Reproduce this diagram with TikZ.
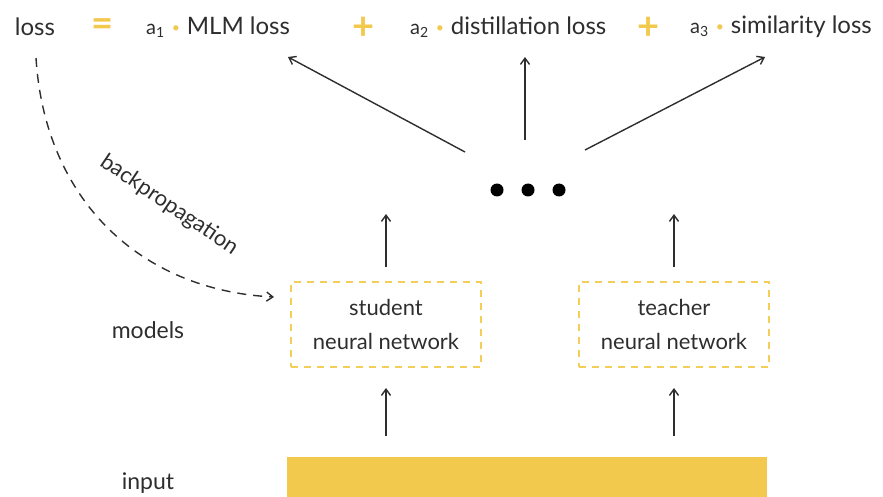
\documentclass[tikz,border=0pt]{standalone}
\usepackage{fontspec}
\setmainfont{Lato}
\usepackage{xcolor}
\usepackage{tikz}
\usetikzlibrary{arrows.meta,positioning}
\definecolor{ink}{HTML}{2E2E2E}
\definecolor{gold}{HTML}{F2C94C}
\definecolor{golddash}{HTML}{F3CF5A}
\tikzset{
  txt/.style={text=ink,font=\fontsize{23}{28}\selectfont,inner sep=2pt},
  term/.style={text=ink,font=\fontsize{24}{29}\selectfont,inner sep=2pt,anchor=west},
  sym/.style={text=gold,font=\fontsize{38}{40}\selectfont\bfseries,inner sep=0pt},
  ar/.style={-{Straight Barb[length=2.2mm,width=3.2mm]},line width=1.4pt,ink},
  bp/.style={-{Straight Barb[length=2.2mm,width=3.2mm]},line width=1.4pt,ink,dash pattern=on 9pt off 7pt},
  netbox/.style={draw=golddash,line width=2pt,dash pattern=on 7pt off 6pt,minimum width=190pt,minimum height=85pt,
    align=center,text=ink,font=\fontsize{22}{34}\selectfont},
  bar/.style={fill=gold,minimum width=480pt,minimum height=40pt,inner sep=0pt}
}
\newcommand{\wgt}[1]{{\fontsize{20}{24}\selectfont a\textsubscript{#1}}\hspace{7pt}{\fontsize{14}{14}\selectfont\color{gold}\raisebox{2pt}{\textbullet}}\hspace{7pt}}

\begin{document}
\begin{tikzpicture}[x=1pt,y=-1pt]
\useasboundingbox (0,0) rectangle (883,497);
% loss formula
\node[txt,font=\fontsize{24}{29}\selectfont] (loss) at (35,27) {loss};
\node[sym] (eq) at (103,28) {=};
\node[term] (t1) at (144,27) {\wgt{1}MLM loss};
\node[sym] (p1) at (364,28) {+};
\node[term] (t2) at (408,27) {\wgt{2}distillation loss};
\node[sym] (p2) at (649,28) {+};
\node[term] (t3) at (688,27) {\wgt{3}similarity loss};

% outputs
\node[inner sep=0pt] (dots) at (528,190) {};
\foreach \dx in {-31,0,31}{\fill[black] ([xshift=\dx pt]dots) circle (6.5pt);}
\coordinate (d1) at (465,152); \coordinate (e1) at (288,57);
\coordinate (d2) at (525,140); \coordinate (e2) at (525,57);
\coordinate (d3) at (585,150); \coordinate (e3) at (765,57);
\draw[ar] (d1) -- (e1);
\draw[ar] (d2) -- (e2);
\draw[ar] (d3) -- (e3);

% models
\node[netbox] (student) at (386,324.5) {student\\neural network};
\node[netbox] (teacher) at (674,324.5) {teacher\\neural network};
\node[txt] (models) at (148,330) {models};
\draw[ar] ([yshift=14pt]student.north) -- ++(0,-53);
\draw[ar] ([yshift=14pt]teacher.north) -- ++(0,-53);

% input
\node[bar] (in) at (527,477) {};
\node[txt] (input) at (148,483) {input};
\draw[ar,shorten <=21pt,shorten >=20pt] (student.south |- in.north) -- (student.south);
\draw[ar,shorten <=21pt,shorten >=20pt] (teacher.south |- in.north) -- (teacher.south);

% backpropagation
\coordinate (bps) at (36,58);
\coordinate (bpe) at (274,297);
\draw[bp] (bps) .. controls (45,200) and (140,290) .. (bpe);
\node[txt,font=\fontsize{22}{26}\selectfont,rotate=-34] (bplabel) at (169,205) {backpropagation};
\end{tikzpicture}
\end{document}
